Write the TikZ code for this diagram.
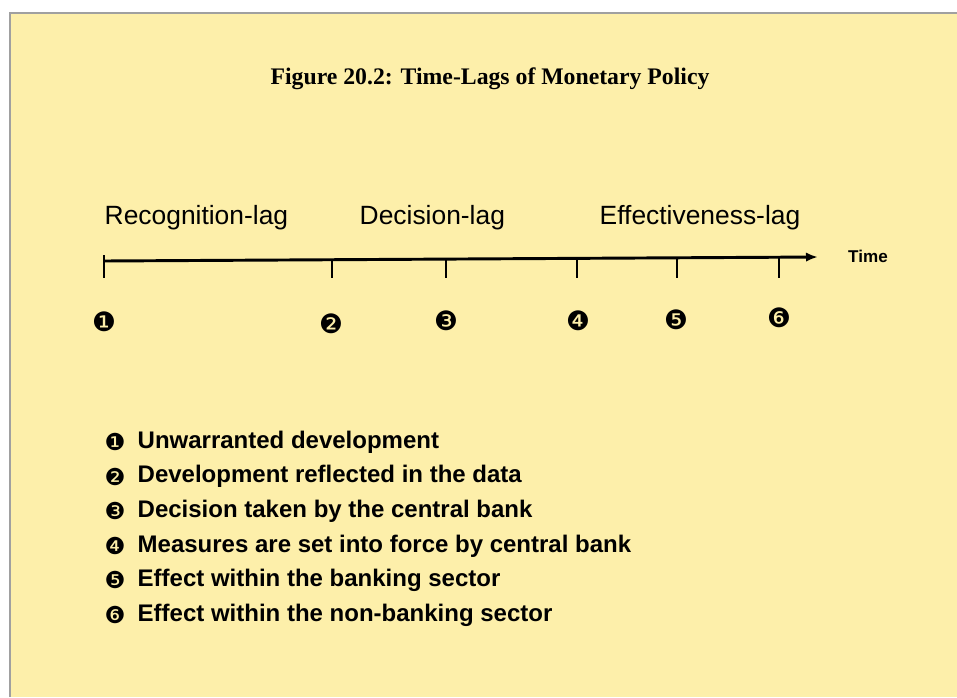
\documentclass[tikz,border=0pt]{standalone}
\usepackage{fontspec}
\setmainfont{Liberation Sans}
\newfontfamily\titlefont{Liberation Serif}
\newfontfamily\dingfont{DejaVu Sans}
\usetikzlibrary{arrows.meta}
\definecolor{paper}{RGB}{253,239,170}
\definecolor{frame}{RGB}{160,160,160}

\tikzset{
    lagtext/.style={anchor=west, font=\fontsize{19.8}{22}\selectfont},
    ticknum/.style={font=\dingfont\fontsize{20}{22}\selectfont},
    legendtext/.style={anchor=west, font=\bfseries\fontsize{18}{20}\selectfont},
    legendnum/.style={font=\dingfont\fontsize{17.5}{19}\selectfont},
    tickline/.style={line width=2.2pt}
}

\begin{document}
\begin{tikzpicture}[x=0.75pt, y=-0.75pt]
    % Page and panel
    \fill[white] (0,0) rectangle (957,697);
    \useasboundingbox (0,0) rectangle (957,697);
    \fill[paper] (10,13) rectangle (957,697);
    \draw[frame, line width=2.2pt] (10,697) -- (10,13) -- (957,13);

    % Title
    \node (title) at (490,79) {\titlefont\bfseries\fontsize{17.8}{20}\selectfont Figure 20.2: Time-Lags of Monetary Policy};

    % Lag labels
    \node[lagtext] (recog) at (100,218) {Recognition-lag};
    \node[lagtext] (decis) at (355,218) {Decision-lag};
    \node[lagtext] (effect) at (595,218) {Effectiveness-lag};

    % Time axis
    \coordinate (start) at (104,261);
    \coordinate (stop) at (818,257);
    \draw[tickline, -{Latex[length=9pt,width=7pt]}] (start) -- (stop);
    \node[font=\bfseries\fontsize{12.8}{15}\selectfont] (time) at (868,256) {Time};

    % Ticks and their numbers
    \draw[tickline] (104,255) -- (104,278);
    \foreach \x/\y in {332/260, 446/259.5, 577/259, 677/258.5, 779/258}
        \draw[tickline] (\x,\y) -- (\x,278);
    \node[ticknum] (n1) at (104,322) {❶};
    \node[ticknum] (n2) at (331,324) {❷};
    \node[ticknum] (n3) at (446,321) {❸};
    \node[ticknum] (n4) at (578,321) {❹};
    \node[ticknum] (n5) at (676,320) {❺};
    \node[ticknum] (n6) at (779,318) {❻};

    % Legend
    \foreach \i/\txt [count=\k from 0] in {
        ❶/Unwarranted development,
        ❷/Development reflected in the data,
        ❸/Decision taken by the central bank,
        ❹/Measures are set into force by central bank,
        ❺/Effect within the banking sector,
        ❻/Effect within the non-banking sector}
    {
        \node[legendnum] (b\k) at (115,442+34.6*\k) {\i};
        \node[legendtext] (l\k) at (133,442+34.6*\k) {\txt};
    }
\end{tikzpicture}
\end{document}
